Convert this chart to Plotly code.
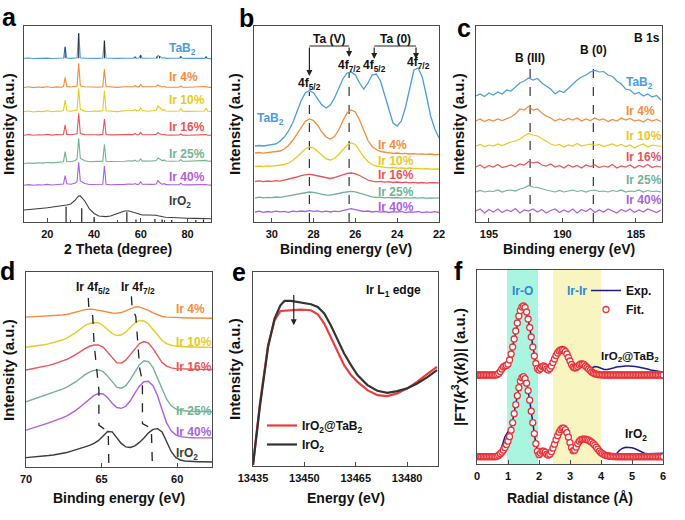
import plotly.graph_objects as go

# ================= DATA =================
sample_names = ["TaB<sub>2</sub>", "Ir 4%", "Ir 10%", "Ir 16%", "Ir 25%", "Ir 40%", "IrO<sub>2</sub>"]
sample_colors = ["#4a9de0", "#f68b3c", "#e8c920", "#ea5459", "#72b394", "#ad5fe3", "#3c3c3c"]

# (a) XRD, 2 theta (degree) and stacked intensities (a.u.)
xrd_2theta = [10, 12, 14, 16, 18, 20, 22, 24, 26, 26.9, 27.6, 28.3, 30, 32, 32.7, 33.4, 34.1,
              36, 38, 40, 42, 43.7, 44.4, 45.1, 47, 50, 53, 55, 56.8, 57.5, 58.2, 59.2, 59.9, 60.6,
              63, 65, 66.6, 67.3, 68.0, 69.3, 70.0, 70.7, 73, 75, 76.4, 77.1, 77.8, 80, 83, 85,
              87.2, 87.9, 88.6, 90]
xrd_tab2 = [163.7, 164, 163.5, 163.8, 163.6, 163.9, 163.5, 163.8, 163.7, 164, 175.5, 164, 163.6, 163.8,
            164.2, 189, 164.3, 163.7, 163.5, 163.8, 163.6, 164, 181.5, 164, 163.7, 163.6, 163.8, 163.5,
            163.8, 165, 163.7, 163.9, 167, 163.8, 163.6, 163.7, 164, 166.5, 165.5, 163.8, 164.5, 163.6,
            163.7, 163.5, 163.8, 165.5, 163.7, 163.6, 163.5, 163.7, 163.6, 164.8, 163.5, 163.4]
xrd_ir4 = [134.5, 135.2, 134.4, 135, 134.6, 135.3, 134.5, 135.1, 134.8, 135.5, 144.7, 135.4, 135, 135.6,
           136, 158.7, 136.2, 135.2, 134.8, 135.1, 134.7, 135.3, 152.7, 135.4, 134.9, 134.6, 135.2, 135.6,
           135.3, 136.5, 135.2, 135.1, 137.5, 135.3, 134.9, 135.2, 135.5, 137, 136, 135, 135.5, 134.9,
           134.8, 135.1, 134.9, 135.8, 134.8, 134.7, 135, 134.6, 134.8, 135.5, 134.7, 134.6]
xrd_ir10 = [110.2, 111, 110, 110.8, 110.4, 111.2, 110.3, 111, 110.8, 111.5, 122, 111.2, 110.8, 111.4,
            112, 133.7, 112.5, 110.9, 110.5, 111, 110.6, 111.5, 131.3, 111.3, 110.8, 110.4, 111.2, 111.6,
            111.5, 112.5, 111.2, 111.5, 114, 111.4, 110.8, 111.2, 112, 116, 114.5, 111.5, 112.5, 111,
            110.7, 111.2, 111, 113.5, 110.9, 110.6, 111, 110.8, 111, 114, 110.9, 110.5]
xrd_ir16 = [86.8, 87.5, 86.7, 87.3, 87, 87.6, 86.9, 87.5, 87.3, 87.8, 97, 87.6, 87.2, 87.8,
            88.2, 108.7, 88.5, 87.4, 87, 87.3, 87.1, 87.6, 103, 87.5, 87.1, 86.9, 87.4, 87.6,
            87.3, 88.5, 87.2, 87.4, 89.5, 87.3, 87.1, 87.3, 87.6, 89.5, 88.2, 87.2, 87.6, 87,
            86.9, 87.2, 87, 88, 86.9, 86.8, 87.1, 86.8, 86.9, 87.4, 86.8, 86.7]
xrd_ir25 = [58.5, 59, 58.6, 59.2, 58.9, 59.5, 59.1, 59.6, 59.8, 60.3, 70.3, 60.5, 60.2, 61.5,
            63, 83.7, 63.5, 61.2, 60.3, 60.5, 60.4, 60.9, 77.7, 60.8, 60.5, 60.3, 60.8, 61.2,
            60.9, 61.8, 60.8, 61, 63, 60.9, 60.7, 61.1, 61.5, 64, 63, 61.2, 62, 61,
            60.8, 61.2, 61, 62.5, 60.9, 60.8, 61.1, 60.9, 61, 61.6, 60.8, 60.9]
xrd_ir40 = [36.8, 37.4, 36.7, 37.3, 37, 37.6, 37, 37.5, 37.6, 38, 46.3, 38.2, 37.8, 39,
            40.5, 59.7, 41, 38.5, 37.5, 37.6, 37.3, 37.8, 56, 37.7, 37.3, 37.1, 37.6, 38,
            37.8, 38.5, 37.6, 37.8, 40, 37.7, 37.3, 37.6, 38, 41.5, 39.5, 37.6, 38.5, 37.4,
            37.2, 37.5, 37.3, 39, 37.2, 37.1, 37.4, 37.1, 37.2, 37.5, 37, 36.9]
xrd_iro2 = [12, 12.3, 12.7, 13.2, 13.8, 14.3, 14.8, 15.3, 15.8, 16.2, 16.5, 17, 18, 22,
            24.5, 26, 26.2, 21, 13, 8.5, 6, 5.3, 5.3, 5.4, 6, 8.5, 11, 11, 9.5, 9, 8.5,
            8, 7.5, 7, 7, 7.3, 6.8, 6.3, 5.8, 5.2, 5, 4.8, 4.4, 4.1, 4, 3.9, 3.8, 3.7, 3.6,
            3.5, 3.4, 3.4, 3.3, 3.2]
tab2_ref_pos = [27.6, 33.4, 44.4, 57.5, 59.9, 66.9, 68.0, 77.1, 87.9]
tab2_ref_int = [11, 25, 17.5, 1.5, 3, 2, 2, 2, 2]
tab2_ref_base = 163.7
iro2_ref_pos = [28.0, 34.7, 40.0, 54.0, 57.9, 66.0, 69.1, 73.2, 83.5, 86.8]
iro2_ref_int = [15.3, 13.7, 5, 9.7, 2.5, 3, 2.5, 2, 2, 2.5]

# (b) Ta 4f XPS
ta_be = [30.8, 30.6, 30.4, 30.2, 30.0, 29.8, 29.6, 29.4, 29.2, 29.0, 28.8, 28.6, 28.4, 28.2, 28.0,
         27.8, 27.6, 27.4, 27.2, 27.0, 26.8, 26.6, 26.4, 26.2, 26.0, 25.8, 25.6, 25.4, 25.2, 25.0,
         24.8, 24.6, 24.4, 24.2, 24.0, 23.8, 23.6, 23.4, 23.2, 23.0, 22.8, 22.6, 22.4, 22.2, 22.0]
ta_tab2 = [76, 76.5, 76, 76.5, 77, 78, 81, 85, 91, 99, 110, 121, 129, 131.5, 129, 123, 117, 114, 117,
           124, 134, 143, 149, 150, 147, 139, 133, 139, 147, 148, 141, 127, 111, 99, 96, 101, 115,
           135, 152, 154, 145, 126, 106, 93, 84]
ta_ir4 = [69, 69.5, 68.8, 69.3, 69.6, 70.2, 71, 73, 76.5, 81.5, 88, 95, 100.5, 103, 101.5, 96.5, 90,
          85, 83, 85.5, 92, 101, 109, 112, 110, 102, 91, 81.5, 75.5, 72.5, 70.5, 69.8, 69, 68.6, 69,
          68.3, 68.7, 68, 68.4, 67.8, 68.2, 67.6, 68, 67.4, 67.6]
ta_ir10 = [55.5, 56, 55.3, 56.2, 55.8, 56.3, 56.8, 57.5, 59, 61.5, 65, 69, 73, 75, 74, 70.5, 66.5, 63,
           62, 63.5, 67.5, 72.5, 77, 79, 77.5, 71.5, 65, 60.5, 57.5, 56, 55, 54.6, 54.2, 54.5, 53.8,
           54.1, 53.5, 54, 53.3, 53.7, 53.1, 53.5, 52.9, 53.2, 53]
ta_ir16 = [40.5, 41.2, 40.3, 41, 40.6, 41.3, 40.9, 41.8, 42.5, 43.8, 45, 46.3, 47.2, 47.8, 47, 46,
           44.8, 43.8, 43.5, 44.5, 46, 47.3, 48.5, 49, 48.2, 46.5, 44, 42, 40.8, 40.2, 40.6, 39.8,
           40.3, 39.5, 40, 39.3, 39.9, 39.2, 39.7, 39, 39.5, 38.8, 39.3, 38.9, 39.1]
ta_ir25 = [24, 24.8, 24.1, 24.6, 24.3, 25, 24.6, 25.3, 26, 26.8, 27.8, 28.8, 29.5, 30, 29.6, 28.6,
           27.5, 26.8, 26.9, 27.5, 28.5, 29.5, 30.3, 30.7, 30.2, 29, 27.5, 26, 25.2, 24.5, 24.9,
           24.2, 24.7, 24, 24.5, 23.9, 24.4, 23.8, 24.3, 23.9, 24.4, 23.7, 24.2, 23.8, 24.1]
ta_ir40 = [10, 10.8, 9.6, 10.5, 9.8, 10.9, 10.1, 10.6, 9.7, 10.9, 10.3, 11, 10.5, 11.4, 10.6, 11.1,
           10.2, 10.8, 10, 10.9, 10.4, 11.5, 12.3, 13.3, 12.4, 11.6, 10.5, 11, 10, 10.7, 9.8, 10.5,
           9.5, 10.4, 9.9, 10.6, 9.4, 10.2, 9.8, 10.5, 9.3, 10.1, 9.6, 10.3, 9.5]
ta_peak_pos = [28.2, 26.3, 25.1, 23.1]

# (c) B 1s XPS
b_be = [195.9, 195.6, 195.3, 195.0, 194.7, 194.4, 194.1, 193.8, 193.5, 193.2, 192.9, 192.6, 192.3,
        192.0, 191.7, 191.4, 191.1, 190.8, 190.5, 190.2, 189.9, 189.6, 189.3, 189.0, 188.7, 188.4,
        188.1, 187.8, 187.5, 187.2, 186.9, 186.6, 186.3, 186.0, 185.7, 185.4, 185.1, 184.8, 184.5,
        184.2, 183.9, 183.6, 183.3]
b_tab2 = [126, 128, 125.5, 129, 127, 130, 128, 132, 131, 135, 139, 141, 144, 142, 143.5, 139, 136,
          133, 128, 131, 129.5, 134, 138, 142, 145, 147, 150, 151.5, 150, 150.5, 147, 145.5, 141,
          138, 133, 132, 128, 129.5, 126, 128, 125, 126.5, 122]
b_ir4 = [101, 103, 100.5, 102.5, 101, 103, 101.5, 103, 105, 108, 113, 112, 115.5, 112, 113, 109,
         106, 104, 101, 103, 101.5, 103.5, 102, 104, 101, 103, 101.5, 104, 102, 103, 100.5, 102.5,
         101, 104, 102, 103.5, 101, 102, 100, 103, 101, 102.5, 100.5]
b_ir10 = [76, 77.5, 75.5, 77, 76, 78, 76.5, 78.5, 80, 81, 83, 86, 88.5, 87, 86, 83.5, 81, 78, 76.5,
          77.5, 75, 77, 76, 78.5, 76, 77, 78, 76.5, 77.5, 75.5, 77, 78, 76, 77.5, 75.5, 77, 74,
          76.5, 78, 75, 77, 76.5, 75.5]
b_ir16 = [55, 57, 54, 56.5, 55, 57.5, 54.5, 56, 57, 55.5, 58, 57, 60.5, 59, 60, 57, 56, 58, 55,
          56.5, 54, 57, 55, 56.5, 54, 57, 55.5, 57, 54.5, 56, 55, 57.5, 54, 56, 55, 57, 54, 56.5,
          55, 57.5, 54.5, 56, 55]
b_ir25 = [30, 31.5, 30, 31, 30.5, 32, 30, 31.5, 32, 31, 33, 34, 36.5, 35, 34.5, 33, 32, 31, 30,
          31.5, 30, 31, 32, 30.5, 31.5, 30, 31.5, 32, 30.5, 31, 30, 31.5, 30.5, 32, 30, 31, 30.5,
          32, 30, 31.5, 30.5, 31, 30]
b_ir40 = [11, 13, 9, 12.5, 10, 13, 9.5, 12, 10.5, 13.5, 9, 12, 11, 13, 10, 12.5, 9, 11.5, 13, 9.5,
          12, 10, 13, 9, 12.5, 10.5, 13.5, 9.5, 12, 10, 13, 11, 9, 12.5, 10.5, 13, 9.5, 12, 10, 13,
          11, 9.5, 12]
b_peak_pos = [192.2, 187.9]

# (d) Ir 4f XPS
ir_be = [70.0, 69.7, 69.4, 69.1, 68.8, 68.5, 68.2, 67.9, 67.6, 67.3, 67.0, 66.7, 66.4, 66.1, 65.8,
         65.5, 65.2, 64.9, 64.6, 64.3, 64.0, 63.7, 63.4, 63.1, 62.8, 62.5, 62.2, 61.9, 61.6, 61.3,
         61.0, 60.7, 60.4, 60.1, 59.8, 59.5, 59.2, 58.9, 58.6, 58.3, 58.0, 57.7]
ir_ir4 = [149.3, 149.5, 149.6, 149.8, 150, 150.3, 150.6, 151, 151.5, 152, 153, 154, 155.5, 156.8,
          157.3, 157, 156, 155, 154, 153.5, 153.3, 154, 155.5, 157.5, 159.5, 159.5, 158, 156, 153.5,
          151.5, 150, 149.3, 149, 148.8, 148.6, 148.5, 148.5, 148.4, 148.4, 148.3, 148.3, 148.2]
ir_ir10 = [119.3, 119.8, 120.3, 121, 121.8, 122.7, 123.8, 125, 126.5, 128.5, 131, 134, 137.5, 141,
           143, 144, 143.5, 141, 137, 133, 131, 131.5, 134.5, 139, 143.5, 146, 145.5, 142.5, 137,
           131, 126, 123, 121.3, 120.5, 120, 119.8, 119.6, 119.5, 119.4, 119.3, 119.3, 119.2]
ir_ir16 = [96.7, 97.5, 98.3, 99.2, 100.2, 101.3, 102.5, 104, 105.5, 107.3, 109.5, 112, 115, 118,
           120.3, 121.5, 121.7, 119.5, 114.5, 108.5, 104, 103.5, 106.5, 112, 118, 123, 125, 123.5,
           118, 110.5, 104, 100.5, 98.8, 98, 97.7, 97.5, 97.4, 97.4, 97.3, 97.3, 97.3, 97.2]
ir_ir25 = [65, 66.5, 68, 69.5, 71, 72.5, 74, 75.8, 77.5, 79.5, 82, 85, 88.5, 92, 94.5, 96.3, 96.7,
           95, 90.5, 84.5, 79.5, 78.5, 81, 87, 95, 102, 105.8, 105, 99, 89, 77.5, 67.5, 61, 58,
           56.5, 55.8, 55.5, 55.3, 55.2, 55.1, 55, 55]
ir_ir40 = [36.7, 38, 39.5, 41, 42.5, 44, 45.5, 47.2, 49, 51, 53.5, 56.5, 60, 64, 68, 71.3, 73.2,
           72.8, 69, 63.5, 59.3, 58.4, 60.5, 66, 73.5, 80.5, 85, 85.5, 81, 71, 57, 44, 36, 32, 30.3,
           29.6, 29.3, 29.1, 29, 29, 29, 29]
ir_iro2 = [9.3, 9.6, 10, 10.4, 10.9, 11.4, 12, 12.7, 13.5, 14.5, 15.8, 17, 18.5, 20, 21.5, 23.5,
           26.5, 31, 35.3, 35, 29.5, 23.5, 20, 19.4, 21, 24.5, 29, 34, 37.5, 38.2, 35, 26, 15.5, 9.5,
           7, 6, 5.6, 5.4, 5.3, 5.2, 5.1, 5]
ir52_guide_be = [65.88, 65.84, 65.59, 65.50, 65.33, 65.18, 65.18, 64.56, 64.52]
ir52_guide_int = [168.3, 156.7, 150.7, 123.3, 98.3, 76.7, 41.7, 35, 0]
ir72_guide_be = [63.03, 62.98, 62.74, 62.59, 62.48, 62.30, 62.30, 61.71, 61.64]
ir72_guide_int = [170, 158.3, 150, 121.7, 98.3, 85, 43.3, 38.3, 0]

# (e) Ir L1-edge XANES
xanes_e = [13435, 13437, 13439.4, 13441.3, 13443, 13444.2, 13446.1, 13449, 13451.9, 13453.9,
           13455.8, 13457.7, 13459.7, 13461.6, 13463.6, 13465.5, 13468.4, 13471.3, 13474.2,
           13477.1, 13480, 13482.9, 13485.8, 13488.7]
xanes_iro2 = [1, 59.3, 119.3, 147.7, 161, 165.3, 165.3, 163.3, 162, 159.3, 152.7, 141, 126, 112.7,
              101, 91, 81, 75.3, 73.3, 75, 77.7, 82.7, 88.7, 96]
xanes_iro2_tab2 = [1, 62, 121, 146, 155.3, 155.7, 156, 156.7, 156, 152, 142.7, 129.3, 114.3, 101,
                   91, 84.3, 76, 71, 70, 72.7, 77.7, 84.3, 92, 99.3]

# (f) EXAFS |FT(k3 chi(k))|
exafs_r_fit = [0.0, 0.05, 0.1, 0.15, 0.2, 0.25, 0.3, 0.35, 0.4, 0.45, 0.5, 0.55, 0.6, 0.65, 0.7,
               0.75, 0.8, 0.85, 0.9, 0.95, 1.0, 1.05, 1.1, 1.15, 1.2, 1.25, 1.3, 1.35, 1.4, 1.45,
               1.5, 1.55, 1.6, 1.65, 1.7, 1.75, 1.8, 1.85, 1.9, 1.95, 2.0, 2.05, 2.1, 2.15, 2.2,
               2.25, 2.3, 2.35, 2.4, 2.45, 2.5, 2.55, 2.6, 2.65, 2.7, 2.75, 2.8, 2.85, 2.9, 2.95,
               3.0, 3.05, 3.1, 3.15, 3.2, 3.25, 3.3, 3.35, 3.4, 3.45, 3.5, 3.55, 3.6, 3.65, 3.7,
               3.75, 3.8, 3.85, 3.9, 3.95, 4.0, 4.05, 4.1, 4.15, 4.2, 4.25, 4.3, 4.35, 4.4, 4.45,
               4.5, 4.55, 4.6, 4.65, 4.7, 4.75, 4.8, 4.85, 4.9, 4.95, 5.0, 5.05, 5.1, 5.15, 5.2,
               5.25, 5.3, 5.35, 5.4, 5.45, 5.5, 5.55, 5.6, 5.65, 5.7, 5.75, 5.8, 5.85, 5.9, 5.95, 6.0]
fit_iro2_tab2 = [0, 0, 0, 0, 0, 0, 0, 0, 0, 0, 0, 0, 0,
                 0.5, 1.5, 3.5, 6, 8, 9, 9.5, 11, 15, 21, 28, 36, 44, 52, 59, 64.5, 68, 69, 67.5,
                 63, 56, 47.5, 38, 28, 19, 11.5, 6.5, 5, 6.5, 8.5, 9, 8, 6, 5, 6.5, 9, 12.5, 16,
                 19.5, 22, 24, 25, 25.5, 25, 23.5, 21, 17.5, 14, 10.5, 8, 7, 7.5, 8.5, 10, 11, 11,
                 10.5, 9, 7.5, 6, 4.5, 3, 2, 1.3, 0.8, 0.5, 0.3, 0.2, 0.1,
                 0, 0, 0, 0, 0, 0, 0, 0, 0, 0, 0, 0, 0, 0, 0, 0, 0, 0, 0, 0, 0, 0, 0, 0, 0, 0, 0,
                 0, 0, 0, 0, 0, 0, 0, 0, 0, 0, 0, 0]
fit_iro2 = [0, 0, 0, 0, 0, 0, 0, 0, 0, 0, 0, 0, 0,
            0.5, 1.5, 3, 4.5, 6.5, 9, 12, 15.5, 20, 26.5, 34, 43, 52, 61, 69, 75.5, 79, 80, 78,
            73.5, 66, 56.5, 45.5, 34, 23, 13, 5.5, 2, 3.5, 5.5, 5.5, 4.5, 2.5, 1.5, 2.5, 5, 8.5,
            12.5, 17, 21, 24.5, 27, 28.5, 28.5, 27, 24, 19.5, 14, 9, 6, 6.5, 9.5, 13, 15.5, 17,
            17.5, 17.5, 17.5, 17, 16.5, 15.5, 14.5, 13, 11.5, 9.5, 7.5, 5.5, 4, 3, 2, 1.4, 1,
            0.7, 0.5, 0.3, 0.2, 0.1,
            0, 0, 0, 0, 0, 0, 0, 0, 0, 0, 0, 0, 0, 0, 0, 0, 0, 0, 0, 0, 0, 0, 0, 0, 0, 0, 0, 0,
            0, 0, 0]
exafs_r_exp = [0.0, 0.1, 0.2, 0.3, 0.4, 0.5, 0.6, 0.7, 0.8, 0.9, 1.0, 1.1, 1.2, 1.3, 1.4, 1.5, 1.6,
               1.7, 1.8, 1.9, 2.0, 2.1, 2.2, 2.3, 2.4, 2.5, 2.6, 2.7, 2.8, 2.9, 3.0, 3.1, 3.2, 3.3,
               3.4, 3.5, 3.6, 3.7, 3.8, 3.9, 4.0, 4.1, 4.2, 4.3, 4.4, 4.5, 4.6, 4.7, 4.8, 4.9, 5.0,
               5.1, 5.2, 5.3, 5.4, 5.5, 5.6, 5.7, 5.8, 5.9, 6.0]
exp_iro2_tab2 = [0, 0, 0, 0, 0, 0.2, 0.5, 2, 6.5, 9.5, 11, 21, 36, 52, 64.5, 69.5, 63, 47.5, 28,
                 11.5, 6, 10, 9, 5.5, 7.5, 15.5, 22, 25, 25, 21, 14, 8, 7.5, 10, 11, 9, 7, 7, 8.5,
                 8, 6.5, 5.5, 5.5, 6, 7, 8, 8.5, 9, 9, 9, 9, 8.5, 8, 7.5, 7, 6, 5, 4.5, 4, 3.5, 3]
exp_iro2 = [0, 0, 0, 0, 0, 0, 0.5, 3, 10, 20, 25, 28, 44, 62, 77, 82, 74, 56, 33, 12, 2, 5.5, 4.5,
            1.5, 5, 12.5, 21, 27, 28.5, 24, 14, 6, 9.5, 15.5, 17.5, 17.5, 16.5, 14.5, 11.5, 7.5, 4,
            2, 1, 0.5, 0.8, 3, 6.5, 8.5, 9.5, 9.5, 9, 8, 6.5, 5, 3.5, 3, 3, 3.2, 3.5, 3.5, 3.5]
exafs_offsets = [89, 7.3]          # IrO2@TaB2 stacked above IrO2
exafs_bands = [(0.97, 1.97), (2.45, 4.0)]

# ================= FIGURE =================
W, H = 685, 520
FONT = "Liberation Sans, Arial, sans-serif"
AXC = "#4a4a4a"

def dx(l, r):
    return [l / W, r / W]

def dy(t, b):
    return [1 - b / H, 1 - t / H]

panels = [
    ("", (24, 211), (26, 222), [10, 90], [20, 40, 60, 80], [0, 196]),
    ("2", (254, 439), (26, 222), [30.85, 22], [30, 28, 26, 24, 22], [0, 196]),
    ("3", (476, 662), (26, 222), [195.88, 183.23], [195, 190, 185], [0, 196]),
    ("4", (26, 212), (272, 467), [70, 57.7], [70, 65, 60], [0, 194.3]),
    ("5", (253, 438), (272, 466), [13435, 13489], [13435, 13450, 13465, 13480], [0, 194.3]),
    ("6", (477, 663), (270, 464), [0, 6], [0, 1, 2, 3, 4, 5, 6], [0, 194]),
]
axes = {}
for suf, (l, r), (t, b), xr, tv, yr in panels:
    axes["xaxis" + suf] = dict(domain=dx(l, r), range=xr, anchor="y" + suf, tickvals=tv,
                               tickformat="d", automargin=False, ticklabelstandoff=2,
                               showline=True, mirror=True, linecolor=AXC, linewidth=1,
                               ticks="inside", ticklen=4, tickcolor=AXC, showgrid=False,
                               zeroline=False,
                               tickfont=dict(family=FONT, size=11, color="#111", weight="bold"))
    axes["yaxis" + suf] = dict(domain=dy(t, b), range=yr, anchor="x" + suf, showline=True,
                               mirror=True, linecolor=AXC, linewidth=1, ticks="",
                               automargin=False,
                               showticklabels=False, showgrid=False, zeroline=False)
axes["xaxis"]["minor"] = dict(ticks="inside", dtick=10, ticklen=2, tickcolor=AXC)

fig = go.Figure()

def line(x, y, color, w, ax, name=None, legend=None, dash=None):
    fig.add_trace(go.Scatter(x=x, y=y, mode="lines", name=name,
                             line=dict(color=color, width=w, dash=dash),
                             xaxis="x" + ax, yaxis="y" + ax,
                             showlegend=legend is not None, legend=legend or "legend",
                             hoverinfo="skip"))

# ---- (a)
for ys, c in zip([xrd_tab2, xrd_ir4, xrd_ir10, xrd_ir16, xrd_ir25, xrd_ir40, xrd_iro2], sample_colors):
    line(xrd_2theta, ys, c, 1.1, "")
sx, sy = [], []
for p, h in zip(tab2_ref_pos, tab2_ref_int):
    sx += [p, p, None]
    sy += [tab2_ref_base, tab2_ref_base + h, None]
line(sx, sy, "#222", 1, "")
sx, sy = [], []
for p, h in zip(iro2_ref_pos, iro2_ref_int):
    sx += [p, p, None]
    sy += [0, h, None]
line(sx, sy, "#222", 1.2, "")

# ---- (b)
for p, top in zip(ta_peak_pos[:2], [130, 149]):
    line([p, p], [0, top], "#333", 1.2, "2", dash="dash")
for ys, c in zip([ta_tab2, ta_ir4, ta_ir10, ta_ir16, ta_ir25, ta_ir40], sample_colors):
    line(ta_be, ys, c, 1.3, "2")

# ---- (c)
for p, top in zip(b_peak_pos, [153, 162]):
    line([p, p], [0, top], "#333", 1.2, "3", dash="dash")
for ys, c in zip([b_tab2, b_ir4, b_ir10, b_ir16, b_ir25, b_ir40], sample_colors):
    line(b_be, ys, c, 1.2, "3")

# ---- (d)
for ys, c in zip([ir_ir4, ir_ir10, ir_ir16, ir_ir25, ir_ir40, ir_iro2], sample_colors[1:]):
    line(ir_be, ys, c, 1.4, "4")
line(ir52_guide_be, ir52_guide_int, "#222", 1.3, "4", dash="dash")
line(ir72_guide_be, ir72_guide_int, "#222", 1.3, "4", dash="dash")

# ---- (e)
line(xanes_e, xanes_iro2_tab2, "#ee3b3b", 2.2, "5", name="IrO<sub>2</sub>@TaB<sub>2</sub>", legend="legend")
line(xanes_e, xanes_iro2, "#333333", 2.2, "5", name="IrO<sub>2</sub>", legend="legend")

# ---- (f)
for (x0, x1), col in zip(exafs_bands, ["#a9f5df", "#f8f5c1"]):
    fig.add_shape(type="rect", xref="x6", yref="y6 domain", x0=x0, x1=x1, y0=0, y1=1,
                  fillcolor=col, line_width=0, layer="below")
for i, (ex, ft, off) in enumerate(zip([exp_iro2_tab2, exp_iro2], [fit_iro2_tab2, fit_iro2], exafs_offsets)):
    fig.add_trace(go.Scatter(x=exafs_r_exp, y=[v + off for v in ex], mode="lines", name="Exp.",
                             line=dict(color="#1c1c8c", width=1.5), xaxis="x6", yaxis="y6",
                             showlegend=(i == 0), legend="legend2", hoverinfo="skip"))
    fig.add_trace(go.Scatter(x=exafs_r_fit, y=[v + off for v in ft], mode="markers", name="Fit.",
                             marker=dict(symbol="circle", size=6, color="white",
                                         line=dict(color="#e8343a", width=1.3)),
                             xaxis="x6", yaxis="y6", showlegend=(i == 0), legend="legend2",
                             hoverinfo="skip"))

# ================= TEXT =================
ann = []

def t(text, x, y, ref="", size=12, color="#111", xa="center", ya="middle", angle=0):
    d = dict(text=text, x=x, y=y, showarrow=False, xanchor=xa, yanchor=ya, textangle=angle,
             font=dict(family=FONT, size=size, color=color, weight="bold"))
    if ref == "paper":
        d.update(xref="paper", yref="paper", x=x / W, y=1 - y / H)
    else:
        d.update(xref="x" + ref, yref="y" + ref)
    ann.append(d)

# panel letters
for L, px, py in [("a", 9, 17), ("b", 246, 18), ("c", 464, 28), ("d", 8, 271), ("e", 239, 272), ("f", 458, 271)]:
    t(L, px, py, "paper", size=25, color="#000")
# axis titles
for txt, px, py in [("2 Theta (degree)", 117.5, 249), ("Binding energy (eV)", 346, 249),
                    ("Binding energy (eV)", 569, 249), ("Binding energy (eV)", 119, 498),
                    ("Energy (eV)", 345.5, 498), ("Radial distance (Å)", 570, 498)]:
    t(txt, px, py, "paper", size=14, color="#111")
for px, py, txt in [(8, 124, "Intensity (a.u.)"), (234, 124, "Intensity (a.u.)"),
                    (458, 124, "Intensity (a.u.)"), (8, 370, "Intensity (a.u.)"),
                    (234, 369, "Intensity (a.u.)"),
                    (458, 367, "|FT(<i>k</i><sup>3</sup><i>χ</i>(<i>k</i>))| (a.u.)")]:
    t(txt, px, py, "paper", size=15, color="#111", angle=-90)

# (a) labels
for name, c, yv in zip(sample_names, sample_colors, [172.7, 144.7, 122, 94.7, 68, 44.7, 20.3]):
    t(name, 71, yv, "", size=12, color=c, xa="left")
# (b) labels
t(sample_names[0], 30.05, 103.3, "2", size=12, color=sample_colors[0])
for name, c, yv in zip(sample_names[1:6], sample_colors[1:6], [77.3, 60.7, 47.3, 30, 15]):
    t(name, 25.0, yv, "2", size=12, color=c, xa="left")
t("Ta (V)", 27.25, 183.3, "2", size=12)
t("Ta (0)", 24.1, 183.3, "2", size=12)
t("4f<sub>5/2</sub>", 28.2, 138.3, "2", size=12)
t("4f<sub>7/2</sub>", 26.3, 155.7, "2", size=12)
t("4f<sub>5/2</sub>", 25.1, 155.7, "2", size=12)
t("4f<sub>7/2</sub>", 23.0, 159, "2", size=12)
# (c) labels
for name, c, yv in zip(sample_names[:6], sample_colors[:6], [139, 111, 86, 65, 41.7, 21.7]):
    t(name, 185.8, yv, "3", size=12, color=c, xa="left")
t("B (III)", 192.2, 164.3, "3", size=12)
t("B (0)", 187.9, 171.7, "3", size=12)
t("B 1s", 185.3, 184.3, "3", size=12, xa="left")
# (d) labels
for name, c, yv in zip(sample_names[1:], sample_colors[1:], [157.3, 124.7, 99.3, 56, 35, 13.3]):
    t(name, 60.2, yv, "4", size=12, color=c, xa="left")
t("Ir 4f<sub>5/2</sub>", 65.6, 178.3, "4", size=12)
t("Ir 4f<sub>7/2</sub>", 62.6, 178.3, "4", size=12)
# (e) label
t("Ir L<sub>1</sub> edge", 13467.4, 175.3, "5", size=12, xa="left")
# (f) labels
t("Ir-O", 1.47, 173.3, "6", size=12, color="#2f86d6")
t("Ir-Ir", 3.22, 173.3, "6", size=12, color="#2f86d6")
t("IrO<sub>2</sub>@TaB<sub>2</sub>", 3.92, 107.3, "6", size=11.5, xa="left")
t("IrO<sub>2</sub>", 4.71, 29, "6", size=12, xa="left")

# arrows
def arrow(x, y, ax_, ay_, ref):
    ann.append(dict(x=x, y=y, ax=ax_, ay=ay_, xref="x" + ref, yref="y" + ref,
                    axref="x" + ref, ayref="y" + ref, text="", showarrow=True,
                    arrowhead=2, arrowsize=1, arrowwidth=1.2, arrowcolor="#222"))

arrow(28.2, 146, 28.2, 176, "2")
arrow(26.3, 165, 26.3, 176, "2")
arrow(25.1, 163, 25.1, 176, "2")
arrow(23.1, 163, 23.1, 176, "2")
for x0, x1 in [(28.2, 26.3), (25.1, 23.1)]:
    fig.add_shape(type="line", xref="x2", yref="y2", x0=x0, x1=x1, y0=176, y1=176,
                  line=dict(color="#222", width=1.2))
arrow(13446.9, 141, 13446.9, 172.7, "5")

fig.update_layout(
    width=W, height=H, autosize=False,
    margin=dict(l=0, r=0, t=0, b=0, pad=0, autoexpand=False),
    paper_bgcolor="white", plot_bgcolor="white",
    font=dict(family=FONT, color="#111"),
    annotations=ann,
    legend=dict(x=262 / W, y=1 - 411 / H, xanchor="left", yanchor="top",
                bgcolor="rgba(0,0,0,0)", itemwidth=30, tracegroupgap=0,
                font=dict(family=FONT, size=12, color="#111", weight="bold")),
    legend2=dict(x=586 / W, y=1 - 276 / H, xanchor="left", yanchor="top",
                 bgcolor="rgba(0,0,0,0)", itemwidth=30, tracegroupgap=0,
                 font=dict(family=FONT, size=12, color="#111", weight="bold")),
    **axes,
)

# the page is shown at exactly the figure size: drop the browser's default body margin
fig.write_html("out.html", config={"displayModeBar": False},
               post_script="document.body.style.margin='0px';")
